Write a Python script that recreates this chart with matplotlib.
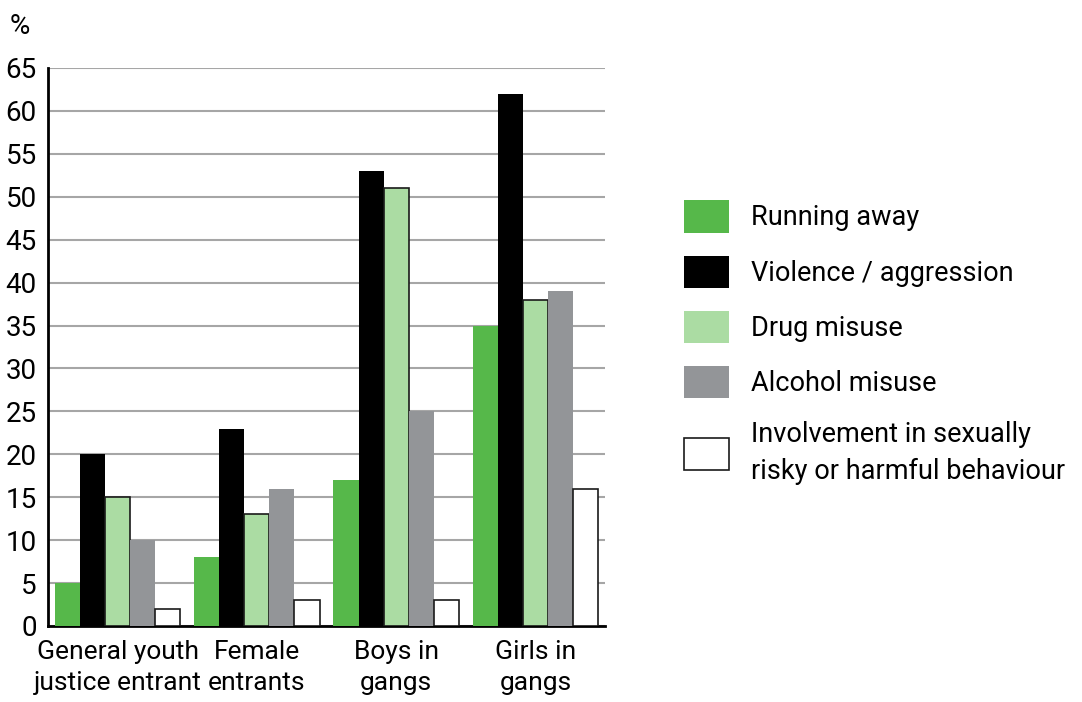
import matplotlib.pyplot as plt
from matplotlib.patches import Patch
import numpy as np

plt.rcParams['font.family'] = ['Roboto', 'DejaVu Sans']

groups = ["General youth\njustice entrant", "Female\nentrants", "Boys in\ngangs", "Girls in\ngangs"]
series = ["Running away", "Violence / aggression", "Drug misuse", "Alcohol misuse",
          "Involvement in sexually\nrisky or harmful behaviour"]
running_away = [5, 8, 17, 35]
violence = [20, 23, 53, 62]
drug_misuse = [15, 13, 51, 38]
alcohol_misuse = [10, 16, 25, 39]
sexual_risk = [2, 3, 3, 16]
values = [running_away, violence, drug_misuse, alcohol_misuse, sexual_risk]

colors = ['#56b84a', '#000000', '#abdca3', '#939598', '#ffffff']
edges = ['none', 'none', '#1a1a1a', 'none', '#1a1a1a']
legend_edges = ['none', 'none', 'none', 'none', '#1a1a1a']

fig = plt.figure(figsize=(10.82, 7.02), dpi=100)
ax = fig.add_axes([48 / 1082, 1 - 626 / 702, (605 - 48) / 1082, (626 - 68) / 702])

x = np.arange(len(groups))
width = 0.18
for i, (vals, c, e) in enumerate(zip(values, colors, edges)):
    ax.bar(x + (i - 2) * width, vals, width, color=c, edgecolor=e,
           linewidth=1.2, zorder=3)

ax.set_xlim(-0.5, 3.5)
ax.set_ylim(0, 65)
ax.set_yticks(range(0, 66, 5))
ax.yaxis.grid(True, color='#a6a6a6', linewidth=1.5, zorder=0)
ax.set_axisbelow(True)
for s in ['top', 'right']:
    ax.spines[s].set_visible(False)
ax.spines['left'].set_linewidth(2)
ax.spines['bottom'].set_linewidth(2)
ax.tick_params(axis='y', length=0, labelsize=20, pad=8)
ax.tick_params(axis='x', length=0, labelsize=19, pad=10)
ax.set_xticks(x)
ax.set_xticklabels(groups, linespacing=1.4)

fig.text(10 / 1082, 1 - 27 / 702, '%', fontsize=20, va='center', ha='left')

handles = [Patch(facecolor=c, edgecolor=e, linewidth=1.2)
           for c, e in zip(colors, legend_edges)]
leg = fig.legend(handles=handles, labels=series, loc='upper left',
                 bbox_to_anchor=(660 / 1082, 1 - 176 / 702), frameon=False,
                 fontsize=19.5, handlelength=1.65, handleheight=1.45,
                 handletextpad=0.8, labelspacing=0.85)
leg.get_texts()[-1].set_linespacing(1.45)

fig.savefig('out.png', dpi=100)
